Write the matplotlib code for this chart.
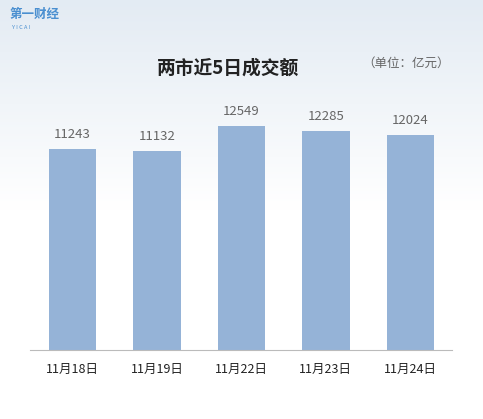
import matplotlib
matplotlib.use("Agg")
import matplotlib.pyplot as plt
import numpy as np
from matplotlib.colors import LinearSegmentedColormap

plt.rcParams['font.family'] = ['Noto Sans CJK SC', 'DejaVu Sans']

categories = ["11月18日", "11月19日", "11月22日", "11月23日", "11月24日"]
values = [11243, 11132, 12549, 12285, 12024]

fig = plt.figure(figsize=(4.83, 4.19), dpi=100)
bg = fig.add_axes([0, 0, 1, 1], zorder=-10)
grad = np.linspace(0, 1, 256).reshape(-1, 1)
cm = LinearSegmentedColormap.from_list("g", ["#ffffff", "#ffffff", "#e3ebf3"])
bg.imshow(grad, aspect='auto', cmap=cm, origin='lower', extent=[0, 1, 0, 1])
bg.axis('off')

ax = fig.add_axes([0.0631, 0.1647, 0.8737, 0.5967])
ax.patch.set_alpha(0)
x = np.arange(len(categories))
ax.bar(x, values, width=0.56, color="#95b3d7")
for xi, v in zip(x, values):
    ax.text(xi, v + 450, str(v), ha='center', va='bottom', fontsize=9.5, color="#666666")
ax.set_xlim(-0.5, 4.5)
ax.set_ylim(0, 14000)
ax.set_xticks(x)
ax.set_xticklabels(categories, fontsize=9, fontweight='medium', color="#222222")
ax.tick_params(axis='x', length=0, pad=9)
ax.set_yticks([])
for s in ['top', 'right', 'left']:
    ax.spines[s].set_visible(False)
ax.spines['bottom'].set_color("#bbbbbb")

fig.text(0.472, 0.838, "两市近5日成交额", ha='center', va='center', fontsize=13.5, fontweight='bold', color="#222222")
fig.text(0.84, 0.85, "（单位：亿元）", ha='center', va='center', fontsize=9, color="#666666")
fig.text(0.02, 0.965, "第一财经", ha='left', va='center', fontsize=9, fontweight='bold', color="#4a8fd0")
fig.text(0.025, 0.935, "Y I C A I", ha='left', va='center', fontsize=4, color="#4a8fd0")

fig.savefig("out.png", dpi=100)
